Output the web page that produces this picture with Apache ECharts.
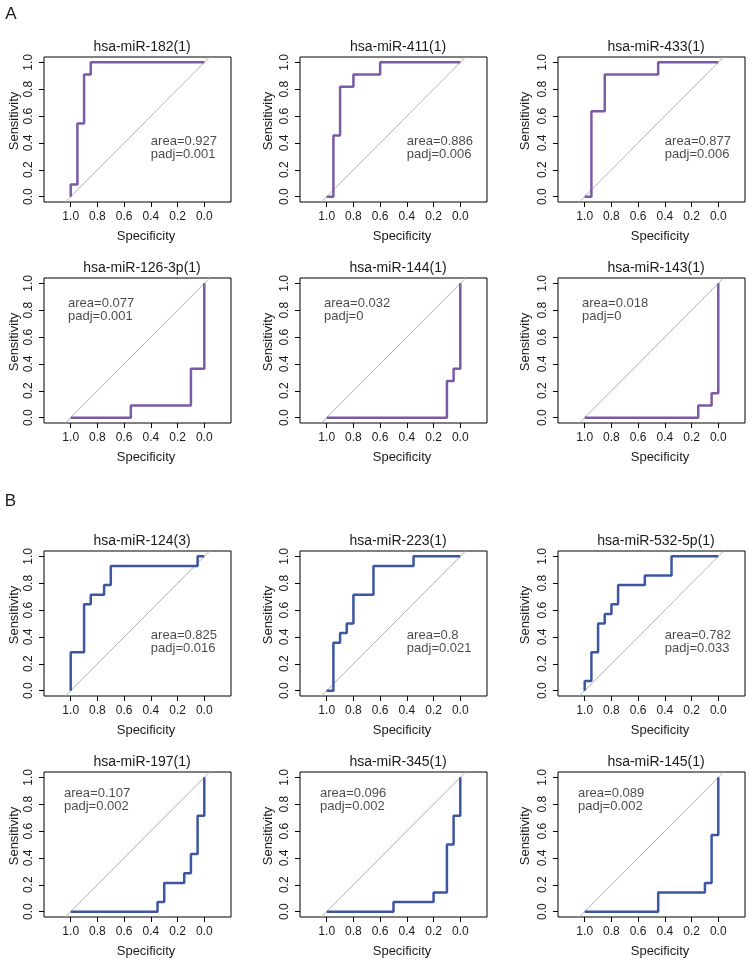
<!DOCTYPE html>
<html><head><meta charset="utf-8">
<script src="https://cdn.jsdelivr.net/npm/echarts@6/dist/echarts.min.js"></script>
<style>html,body{margin:0;padding:0;background:#fff}#c{width:749px;height:960px}</style>
</head><body><div id="c"></div>
<script>
// ---------- data ----------
const sectionLabels = ['A', 'B'];
const panelTitles = ['hsa-miR-182(1)', 'hsa-miR-411(1)', 'hsa-miR-433(1)',
  'hsa-miR-126-3p(1)', 'hsa-miR-144(1)', 'hsa-miR-143(1)',
  'hsa-miR-124(3)', 'hsa-miR-223(1)', 'hsa-miR-532-5p(1)',
  'hsa-miR-197(1)', 'hsa-miR-345(1)', 'hsa-miR-145(1)'];
const areaValues = ['0.927', '0.886', '0.877', '0.077', '0.032', '0.018', '0.825', '0.8', '0.782', '0.107', '0.096', '0.089'];
const padjValues = ['0.001', '0.006', '0.006', '0.001', '0', '0', '0.016', '0.021', '0.033', '0.002', '0.002', '0.002'];
const tickValues = [0, 0.2, 0.4, 0.6, 0.8, 1.0];
const diagSpec = [1.04, -0.04];
const diagSens = [-0.04, 1.04];

const spec182 = [1, 1, 0.95, 0.95, 0.9, 0.9, 0.85, 0.85, 0];
const sens182 = [0, 0.091, 0.091, 0.545, 0.545, 0.909, 0.909, 1, 1];
const spec411 = [1, 0.95, 0.95, 0.9, 0.9, 0.8, 0.8, 0.6, 0.6, 0];
const sens411 = [0, 0, 0.455, 0.455, 0.818, 0.818, 0.909, 0.909, 1, 1];
const spec433 = [1, 0.95, 0.95, 0.85, 0.85, 0.45, 0.45, 0];
const sens433 = [0, 0, 0.636, 0.636, 0.909, 0.909, 1, 1];
const spec126 = [1, 0.55, 0.55, 0.1, 0.1, 0, 0];
const sens126 = [0, 0, 0.091, 0.091, 0.364, 0.364, 1];
const spec144 = [1, 0.1, 0.1, 0.05, 0.05, 0, 0];
const sens144 = [0, 0, 0.273, 0.273, 0.364, 0.364, 1];
const spec143 = [1, 0.15, 0.15, 0.05, 0.05, 0, 0];
const sens143 = [0, 0, 0.091, 0.091, 0.182, 0.182, 1];
const spec124 = [1, 1, 0.9, 0.9, 0.85, 0.85, 0.75, 0.75, 0.7, 0.7, 0.05, 0.05, 0];
const sens124 = [0, 0.286, 0.286, 0.643, 0.643, 0.714, 0.714, 0.786, 0.786, 0.929, 0.929, 1, 1];
const spec223 = [1, 0.95, 0.95, 0.9, 0.9, 0.85, 0.85, 0.8, 0.8, 0.65, 0.65, 0.35, 0.35, 0];
const sens223 = [0, 0, 0.357, 0.357, 0.429, 0.429, 0.5, 0.5, 0.714, 0.714, 0.929, 0.929, 1, 1];
const spec532 = [1, 1, 0.95, 0.95, 0.9, 0.9, 0.85, 0.85, 0.8, 0.8, 0.75, 0.75, 0.55, 0.55, 0.35, 0.35, 0];
const sens532 = [0, 0.071, 0.071, 0.286, 0.286, 0.5, 0.5, 0.571, 0.571, 0.643, 0.643, 0.786, 0.786, 0.857, 0.857, 1, 1];
const spec197 = [1, 0.35, 0.35, 0.3, 0.3, 0.15, 0.15, 0.1, 0.1, 0.05, 0.05, 0, 0];
const sens197 = [0, 0, 0.071, 0.071, 0.214, 0.214, 0.286, 0.286, 0.429, 0.429, 0.714, 0.714, 1];
const spec345 = [1, 0.5, 0.5, 0.2, 0.2, 0.1, 0.1, 0.05, 0.05, 0, 0];
const sens345 = [0, 0, 0.071, 0.071, 0.143, 0.143, 0.5, 0.5, 0.714, 0.714, 1];
const spec145 = [1, 0.45, 0.45, 0.1, 0.1, 0.05, 0.05, 0, 0];
const sens145 = [0, 0, 0.143, 0.143, 0.214, 0.214, 0.571, 0.571, 1];

const specList = [spec182, spec411, spec433, spec126, spec144, spec143, spec124, spec223, spec532, spec197, spec345, spec145];
const sensList = [sens182, sens411, sens433, sens126, sens144, sens143, sens124, sens223, sens532, sens197, sens345, sens145];

// ---------- layout / style ----------
const FONT = '"Liberation Sans", Arial, Helvetica, sans-serif';
const TXT = '#1a1a1a';
const colLeft = [44, 300, 558];
const rowTop = [57, 278, 551, 772];
const W = 187, H = 145;
const ylabOffset = [30, 32, 33];
const sectionColor = ['#7b5aa6', '#3c56a2'];
const annoHigh = [0.4, 0.36];
const annoLow = [[1.02, 0.80], [1.05, 0.835]];

const grids = [], xAxes = [], yAxes = [], series = [], graphics = [];
for (let i = 0; i < 12; i++) {
  const r = Math.floor(i / 3), c = i % 3, sec = r < 2 ? 0 : 1;
  const left = colLeft[c], top = rowTop[r];
  grids.push({left, top, width: W, height: H, show: true, borderColor: '#000', borderWidth: 1,
    backgroundColor: 'transparent', containLabel: false, outerBoundsMode: 'none'});
  xAxes.push({type: 'value', gridIndex: i, position: 'bottom', inverse: true, min: -0.2, max: 1.2,
    splitLine: {show: false}, axisLine: {show: false, onZero: false},
    axisTick: {show: true, length: 5, customValues: tickValues, lineStyle: {color: '#000', width: 1}},
    axisLabel: {customValues: tickValues, formatter: v => v.toFixed(1), margin: 9,
      fontSize: 12, color: TXT, fontFamily: FONT}});
  yAxes.push({type: 'value', gridIndex: i, position: 'left', min: -0.04, max: 1.04,
    splitLine: {show: false}, axisLine: {show: false, onZero: false},
    axisTick: {show: true, length: 5, customValues: tickValues, lineStyle: {color: '#000', width: 1}},
    axisLabel: {customValues: tickValues, formatter: v => v.toFixed(1), margin: 9, rotate: 90,
      fontSize: 12, color: TXT, fontFamily: FONT}});
  series.push({type: 'line', xAxisIndex: i, yAxisIndex: i, silent: true, symbol: 'none', z: 2,
    data: diagSpec.map((s, k) => [s, diagSens[k]]),
    lineStyle: {color: '#b0b0b0', width: 1}});
  series.push({type: 'line', xAxisIndex: i, yAxisIndex: i, silent: true, symbol: 'none', z: 3,
    data: specList[i].map((s, k) => [s, sensList[i][k]]),
    lineStyle: {color: sectionColor[sec], width: 2.5}});
  const high = parseFloat(areaValues[i]) > 0.5;
  const anchor = high ? annoHigh : annoLow[sec];
  series.push({type: 'scatter', xAxisIndex: i, yAxisIndex: i, silent: true, symbolSize: 0, z: 4,
    data: [anchor],
    label: {show: true, position: 'right', distance: 0, align: 'left', verticalAlign: 'middle',
      formatter: 'area=' + areaValues[i] + '\npadj=' + padjValues[i],
      fontSize: 13, lineHeight: 13, color: TXT, fontFamily: FONT}});
  graphics.push({type: 'text', x: left + W / 2 + 4.5, y: top - 10, silent: true,
    style: {text: panelTitles[i], font: '14px ' + FONT, fill: TXT, align: 'center', verticalAlign: 'middle'}});
  graphics.push({type: 'text', x: left + W / 2 + 8.5, y: top + H + 34, silent: true,
    style: {text: 'Specificity', font: '13px ' + FONT, fill: TXT, align: 'center', verticalAlign: 'middle'}});
  graphics.push({type: 'text', x: left - ylabOffset[c], y: top + H / 2 - 8.5, rotation: Math.PI / 2, silent: true,
    style: {text: 'Sensitivity', font: '13px ' + FONT, fill: TXT, align: 'center', verticalAlign: 'middle'}});
}
graphics.push({type: 'text', x: 11, y: 14, silent: true,
  style: {text: sectionLabels[0], font: '17px ' + FONT, fill: TXT, align: 'center', verticalAlign: 'middle'}});
graphics.push({type: 'text', x: 10.5, y: 501, silent: true,
  style: {text: sectionLabels[1], font: '17px ' + FONT, fill: TXT, align: 'center', verticalAlign: 'middle'}});

const chart = echarts.init(document.getElementById('c'), null, {renderer: 'canvas'});
chart.setOption({
  animation: false,
  backgroundColor: '#fff',
  grid: grids, xAxis: xAxes, yAxis: yAxes, series: series,
  graphic: graphics
});
</script>
</body></html>
